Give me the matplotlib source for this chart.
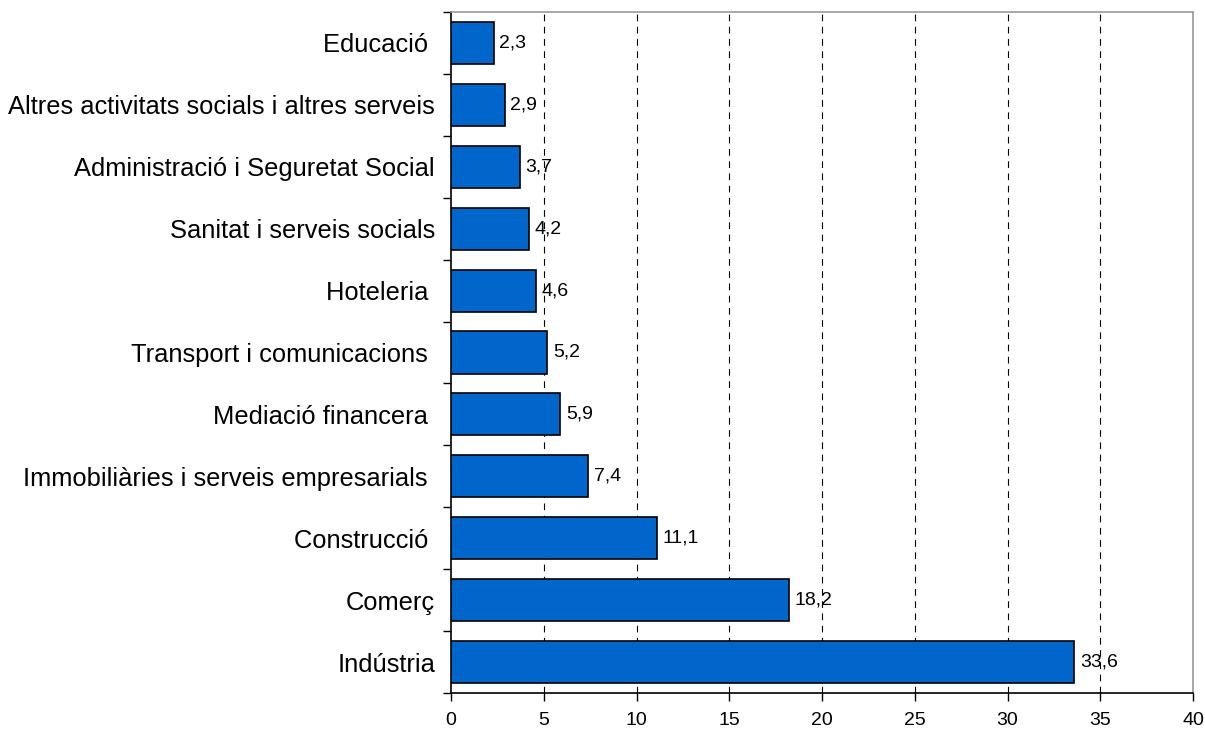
import matplotlib
matplotlib.use("Agg")
import matplotlib.pyplot as plt
from matplotlib.ticker import FixedLocator, NullFormatter

categories = ["Educació ", "Altres activitats socials i altres serveis",
              "Administració i Seguretat Social", "Sanitat i serveis socials",
              "Hoteleria ", "Transport i comunicacions ", "Mediació financera ",
              "Immobiliàries i serveis empresarials ", "Construcció ", "Comerç",
              "Indústria"]
values = [2.3, 2.9, 3.7, 4.2, 4.6, 5.2, 5.9, 7.4, 11.1, 18.2, 33.6]
x_ticks = [0, 5, 10, 15, 20, 25, 30, 35, 40]

plt.rcParams['font.family'] = ['Liberation Sans', 'DejaVu Sans']

fig = plt.figure(figsize=(12.05, 7.31), dpi=100)
ax = fig.add_axes([451/1205, 1-693/731, (1193-451)/1205, (693-12)/731])

n = len(categories)
ypos = list(range(n))
ax.barh(ypos, values, height=0.68, color="#0066CC", edgecolor="black", linewidth=1.2, zorder=3)
for y, v in zip(ypos, values):
    ax.annotate(f"{v:.1f}".replace(".", ","), xy=(v, y), xytext=(4, 0),
                textcoords="offset points", va="center", ha="left", fontsize=14, zorder=4)

ax.set_xlim(0, 40)
ax.set_ylim(n - 0.5, -0.5)
ax.set_xticks(x_ticks)
ax.set_xticklabels([str(t) for t in x_ticks], fontsize=14)
ax.set_yticks(ypos)
ax.set_yticklabels(categories, fontsize=18.4, va="center_baseline")
ax.tick_params(axis='y', length=0, pad=11.5)
ax.yaxis.set_minor_locator(FixedLocator([i - 0.5 for i in range(n + 1)]))
ax.yaxis.set_minor_formatter(NullFormatter())
ax.tick_params(axis='y', which='minor', length=6, width=1, direction='out')
ax.tick_params(axis='x', length=6, width=1, direction='out', pad=8)

for t in x_ticks[1:-1]:
    ax.axvline(t, color="black", linestyle=(0, (6, 5)), linewidth=0.8, zorder=1)

ax.spines['left'].set_color('black')
ax.spines['bottom'].set_color('black')
ax.spines['top'].set_color('#999999')
ax.spines['right'].set_color('#999999')
for s in ax.spines.values():
    s.set_linewidth(1.2)

fig.savefig("out.png", dpi=100)
